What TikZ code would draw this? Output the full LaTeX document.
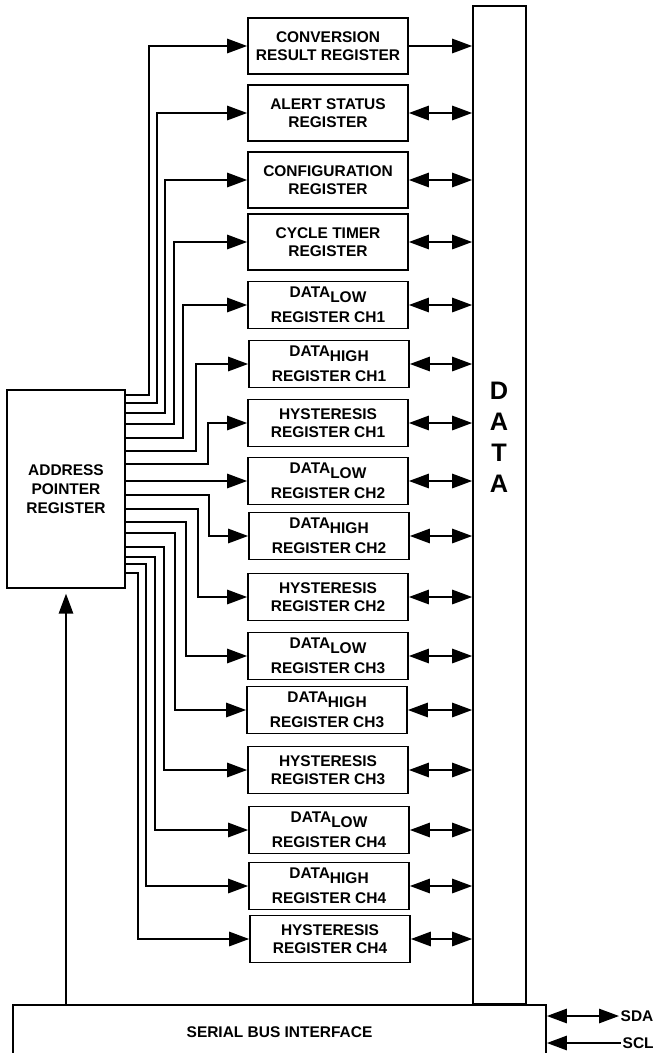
\documentclass[tikz,border=0pt]{standalone}
\usepackage{fontspec}
\setmainfont{Liberation Sans}
\usetikzlibrary{arrows.meta}
\newcommand{\datalo}{DATA\raisebox{-0.55ex}{LOW}}
\newcommand{\datahi}{DATA\raisebox{-0.55ex}{HIGH}}
\tikzset{
	reg/.style={draw, line width=1.2pt, minimum width=4cm, minimum height=1.175cm, align=center, inner sep=1pt},
	tall/.style={minimum height=1.4cm},
	sig/.style={line width=1.2pt, -{Triangle[length=0.5cm,width=0.36cm]}},
	dbl/.style={line width=1.2pt, {Triangle[length=0.5cm,width=0.36cm]}-{Triangle[length=0.5cm,width=0.36cm]}},
}
\begin{document}
\begin{tikzpicture}[x=0.025cm, y=-0.025cm, every node/.style={font=\fontsize{11}{12.8}\selectfont\bfseries}]
		%%%%% START %%%%%
		\useasboundingbox (0,0) rectangle (655,1053);
		
		\node[draw, line width=1.2pt, minimum width=1.325cm, minimum height=24.95cm, inner sep=0pt] (bus) at (499.5,505) {};
		\node[align=center, font=\fontsize{18}{22}\selectfont\bfseries] (buslbl) at (499,437) {D\\A\\T\\A};
		
		\node[reg, tall] (conv) at (328,46) {CONVERSION\\RESULT REGISTER};
		\node[reg, tall] (alert) at (328,113) {ALERT STATUS\\REGISTER};
		\node[reg, tall] (config) at (328,180) {CONFIGURATION\\REGISTER};
		\node[reg, tall] (cycle) at (328,242) {CYCLE TIMER\\REGISTER};
		\node[reg] (dlA) at (328,305) {\datalo\\[5pt]REGISTER CH1};
		\node[reg] (dhA) at (329,364) {\datahi\\[5pt]REGISTER CH1};
		\node[reg] (hyA) at (328,423) {HYSTERESIS\\REGISTER CH1};
		\node[reg] (dlB) at (328,481) {\datalo\\[5pt]REGISTER CH2};
		\node[reg] (dhB) at (329,536) {\datahi\\[5pt]REGISTER CH2};
		\node[reg] (hyB) at (328,597) {HYSTERESIS\\REGISTER CH2};
		\node[reg] (dlC) at (328,656) {\datalo\\[5pt]REGISTER CH3};
		\node[reg] (dhC) at (327,710) {\datahi\\[5pt]REGISTER CH3};
		\node[reg] (hyC) at (328,770) {HYSTERESIS\\REGISTER CH3};
		\node[reg] (dlD) at (329,830) {\datalo\\[5pt]REGISTER CH4};
		\node[reg] (dhD) at (329,886) {\datahi\\[5pt]REGISTER CH4};
		\node[reg] (hyD) at (330,939) {HYSTERESIS\\REGISTER CH4};
		
		\node[draw, line width=1.2pt, minimum width=2.95cm, minimum height=4.95cm, align=center, font=\fontsize{11}{13.5}\selectfont\bfseries] (apr) at (66,489) {ADDRESS\\POINTER\\REGISTER};
		
		\node[draw, line width=1.2pt, minimum width=13.325cm, minimum height=1.35cm] (sbi) at (279.5,1032) {SERIAL BUS INTERFACE};
		\node[anchor=west, inner sep=1pt] (sda) at (619,1016) {SDA};
		\node[anchor=west, inner sep=1pt] (scl) at (621,1043) {SCL};
		
		% pointer lines
		\foreach \ey/\vx/\reg in {395/149/conv, 403/157/alert, 413/165/config, 424/174/cycle, 438/183/dlA, 451/196/dhA, 464/208/hyA, 481/200/dlB, 495/209/dhB, 509/198/hyB, 522/186/dlC, 533/175/dhC, 547/164/hyC, 557/155/dlD, 564/146/dhD, 573/138/hyD}
			\draw[sig] (apr.east |- 0,\ey) -- (\vx,\ey) |- (\reg.west);
		
		% data lines
		\draw[sig] (conv.east) -- (conv.east -| bus.west);
		\foreach \reg in {alert, config, cycle, dlA, dhA, hyA, dlB, dhB, hyB, dlC, dhC, hyC, dlD, dhD, hyD}
			\draw[dbl] (\reg.east) -- (\reg.east -| bus.west);
		
		\draw[sig] (apr.south |- sbi.north) -- ([yshift=-0.12cm]apr.south);
		\draw[dbl] (sbi.east |- sda) -- (sda.west);
		\draw[sig] (scl.west) -- (sbi.east |- scl);
		%%%%% END %%%%%
\end{tikzpicture}
\end{document}
